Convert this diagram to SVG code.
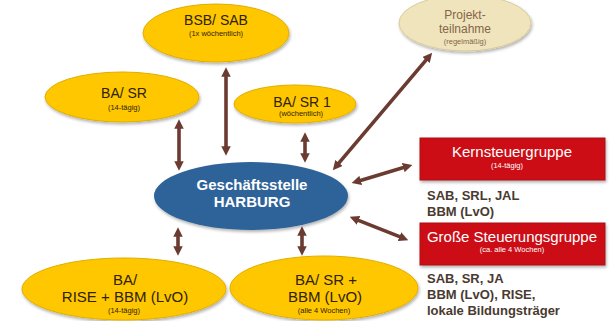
<svg xmlns="http://www.w3.org/2000/svg" width="614" height="321" viewBox="0 0 614 321">
<style>
.y{fill:#FFC700;stroke:#E0AE00;stroke-width:1}
.yt{font-family:"Liberation Sans",Arial,sans-serif;fill:#2e2208;text-anchor:middle}
.m{font-size:14px}
.s{font-size:7.5px}
.r{fill:#CC0A12;stroke:#A8141A;stroke-width:1}
.wt{font-family:"Liberation Sans",Arial,sans-serif;fill:#fff;text-anchor:middle}
.dt{font-family:"Liberation Sans",Arial,sans-serif;font-weight:bold;font-size:13px;fill:#4a3a30}
.c{stroke:#6B3B32;stroke-width:3.6;fill:none;marker-start:url(#ah);marker-end:url(#ah)}
</style>
<defs>
<marker id="ah" viewBox="0 0 10 10" markerUnits="userSpaceOnUse" markerWidth="9.5" markerHeight="9.5" refX="3" refY="5" orient="auto-start-reverse">
<path d="M0,0 L10,5 L0,10 z" fill="#6B3B32"/>
</marker>
<filter id="sh" x="-10%" y="-10%" width="120%" height="130%">
<feDropShadow dx="1" dy="2" stdDeviation="1.5" flood-color="#000" flood-opacity="0.3"/>
</filter>
</defs>
<rect width="614" height="321" fill="#fff"/>

<g id="connectors">
<line class="c" x1="226" y1="74" x2="226" y2="149"/>
<line class="c" x1="179" y1="126" x2="179" y2="164"/>
<line class="c" x1="305" y1="139" x2="305" y2="156"/>
<line class="c" x1="178" y1="234" x2="178" y2="249"/>
<line class="c" x1="302" y1="233" x2="302" y2="249"/>
<line class="c" x1="337.1" y1="165.2" x2="427.9" y2="57.8"/>
<line class="c" x1="358" y1="181.2" x2="406" y2="166.8"/>
<line class="c" x1="355.9" y1="219.3" x2="402.1" y2="237.7"/>
</g>

<g id="bsb-sab">
<ellipse class="y" cx="216" cy="33" rx="73" ry="29" filter="url(#sh)"/>
<text class="yt m" x="216" y="25">BSB/ SAB</text>
<text class="yt s" x="216" y="36">(1x wöchentlich)</text>
</g>

<g id="projekt">
<ellipse cx="465" cy="23" rx="66" ry="28" fill="#EFE4BC" stroke="#D9CB9A" stroke-width="1" filter="url(#sh)"/>
<text x="465" y="19" font-family="Liberation Sans, Arial, sans-serif" font-size="12" fill="#85654a" text-anchor="middle">Projekt-</text>
<text x="465" y="33" font-family="Liberation Sans, Arial, sans-serif" font-size="12" fill="#85654a" text-anchor="middle">teilnahme</text>
<text x="465" y="44" font-family="Liberation Sans, Arial, sans-serif" font-size="7.5" fill="#85654a" text-anchor="middle">(regelmäßig)</text>
</g>

<g id="ba-sr">
<ellipse class="y" cx="122" cy="97" rx="77" ry="25" filter="url(#sh)"/>
<text class="yt m" x="124" y="98">BA/ SR</text>
<text class="yt s" x="124" y="110">(14-tägig)</text>
</g>

<g id="ba-sr1">
<ellipse class="y" cx="295" cy="104" rx="61" ry="19" filter="url(#sh)"/>
<text class="yt m" x="302" y="107">BA/ SR 1</text>
<text class="yt s" x="301" y="116">(wöchentlich)</text>
</g>

<g id="geschaeftsstelle">
<ellipse cx="251" cy="196" rx="97" ry="34" fill="#2E6399" filter="url(#sh)"/>
<text class="wt" x="252" y="190" font-size="15" font-weight="bold">Geschäftsstelle</text>
<text class="wt" x="252" y="207" font-size="15" font-weight="bold">HARBURG</text>
</g>

<g id="kernsteuergruppe">
<rect class="r" x="420" y="138" width="185" height="42" filter="url(#sh)"/>
<text class="wt" x="512" y="157" font-size="15">Kernsteuergruppe</text>
<text class="wt" x="507" y="168" font-size="7.5">(14-tägig)</text>
<text class="dt" x="427" y="200">SAB, SRL, JAL</text>
<text class="dt" x="427" y="216">BBM (LvO)</text>
</g>

<g id="grosse-steuerungsgruppe">
<rect class="r" x="420" y="223" width="185" height="42" filter="url(#sh)"/>
<text class="wt" x="512" y="242" font-size="15">Große Steuerungsgruppe</text>
<text class="wt" x="512" y="252" font-size="7.5">(ca. alle 4 Wochen)</text>
<text class="dt" x="427" y="283">SAB, SR, JA</text>
<text class="dt" x="427" y="299">BBM (LvO), RISE,</text>
<text class="dt" x="427" y="315">lokale Bildungsträger</text>
</g>

<g id="ba-rise-bbm">
<ellipse class="y" cx="124" cy="289" rx="102" ry="31" filter="url(#sh)"/>
<text class="yt" x="125" y="285" font-size="15">BA/</text>
<text class="yt" x="125" y="302" font-size="15">RISE + BBM (LvO)</text>
<text class="yt s" x="124" y="313">(14-tägig)</text>
</g>

<g id="ba-sr-bbm">
<ellipse class="y" cx="324" cy="288" rx="94" ry="32" filter="url(#sh)"/>
<text class="yt" x="326" y="285" font-size="15">BA/ SR +</text>
<text class="yt" x="325" y="302" font-size="15">BBM (LvO)</text>
<text class="yt s" x="324" y="313">(alle 4 Wochen)</text>
</g>
</svg>
